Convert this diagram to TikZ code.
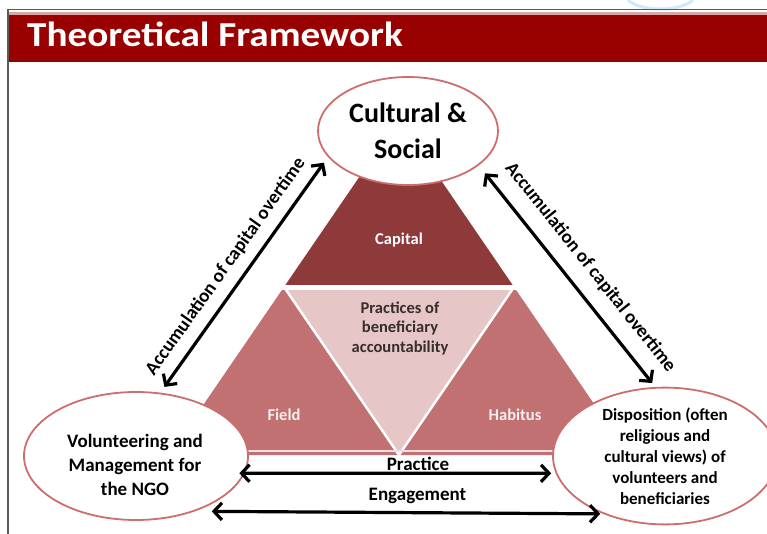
\documentclass[tikz,border=0pt]{standalone}
\usepackage{fontspec}
\setmainfont{Carlito}
\usetikzlibrary{shapes.geometric,arrows.meta}
\definecolor{bandred}{RGB}{153,0,0}
\definecolor{capcol}{RGB}{142,58,58}
\definecolor{sidecol}{RGB}{193,113,113}
\definecolor{midcol}{RGB}{230,198,198}
\definecolor{ellcol}{RGB}{205,110,110}
\definecolor{framecol}{RGB}{90,90,90}
\definecolor{wmblue}{RGB}{205,235,250}
\definecolor{midtext}{RGB}{55,45,45}
\begin{document}
\begin{tikzpicture}[x=1pt,y=-1pt,
  bubble/.style={ellipse,draw=ellcol,line width=1.8pt,fill=white,align=center,inner sep=0pt},
  link/.style={line width=3.2pt,{Straight Barb[length=8pt,width=17pt]}-{Straight Barb[length=8pt,width=17pt]}},
  lbl/.style={font=\bfseries\fontsize{19}{22}\selectfont},
  tri/.style={font=\bfseries\fontsize{16.5}{19.5}\selectfont,align=center}
]
\useasboundingbox (0,0) rectangle (767,534);
\fill[white] (0,0) rectangle (767,534);
% watermark trace
\draw[wmblue,line width=3pt] (628,0) .. controls (640,12) and (680,12) .. (693,0);
% frame and title band
\fill[bandred!35] (8,12.5) rectangle (767,15.5);
\fill[bandred] (8,15.5) rectangle (767,62);
\draw[framecol,line width=1.3pt] (8,534) -- (8,9.5) -- (767,9.5);
\node[anchor=base west,text=white,inner sep=0pt,xscale=1.12,transform shape,font=\bfseries\fontsize{35}{40}\selectfont] (title) at (27,47) {Theoretical Framework};
% triangle pieces
\coordinate (A) at (399,119);
\coordinate (ML) at (284,287);
\coordinate (MR) at (514,287);
\coordinate (BL) at (169,455);
\coordinate (MB) at (399,455);
\coordinate (BR) at (629,455);
\fill[capcol] (A) -- (ML) -- (MR) -- cycle;
\fill[sidecol] (ML) -- (BL) -- (MB) -- cycle;
\fill[sidecol] (MR) -- (MB) -- (BR) -- cycle;
\fill[midcol] (ML) -- (MR) -- (MB) -- cycle;
\draw[white,line width=5pt] ([xshift=-20pt]ML) -- ([xshift=20pt]MR);
\draw[white,line width=2.5pt] (ML) -- (MB) -- (MR);
\draw[midcol!60,line width=2pt] ([yshift=4pt]BL) -- ([yshift=4pt]BR);
\node[tri,text=white] (capital) at (399,240) {Capital};
\node[tri,text=white!88!sidecol] (field) at (284,415) {Field};
\node[tri,text=white!88!sidecol] (habitus) at (515,415) {Habitus};
\node[tri,text=midtext] (practices) at (400,328) {Practices of\\beneficiary\\accountability};
% ellipses
\node[bubble,minimum width=180pt,minimum height=108pt,font=\bfseries\fontsize{28}{36}\selectfont] (cs) at (408,131) {Cultural \&\\Social};
\node[bubble,minimum width=224pt,minimum height=128pt] (vm) at (136,456) {};
\node[align=center,inner sep=0pt,font=\bfseries\fontsize{19}{24}\selectfont] (vmt) at (135,464.5) {Volunteering and\\Management for\\the NGO};
\node[bubble,minimum width=224pt,minimum height=128pt,font=\bfseries\fontsize{17}{21}\selectfont] (dp) at (665,456) {Disposition (often\\religious and\\cultural views) of\\volunteers and\\beneficiaries};
% connectors
\draw[link,shorten <=7pt,shorten >=7pt] (vm.69) -- (cs.198.8)
  node[pos=0.486,sloped,above=10pt,inner sep=0pt,lbl] (acc1) {Accumulation of capital overtime};
\draw[link,shorten <=10pt,shorten >=5pt] (cs.334.9) -- (dp.98.3)
  node[pos=0.527,sloped,above=14pt,inner sep=0pt,lbl] (acc2) {Accumulation of capital overtime};
\draw[link,shorten <=-5.5pt,shorten >=4.5pt] (vm.-9.5) -- (dp.189.5);
\draw[link,shorten <=16.5pt,shorten >=2.7pt] (vm.-43.8) -- (dp.223.8);
\node[lbl,anchor=base,inner sep=0pt] (practice) at (418,470.5) {Practice};
\node[lbl,anchor=base,inner sep=0pt] (engagement) at (417.5,500) {Engagement};
\end{tikzpicture}
\end{document}
